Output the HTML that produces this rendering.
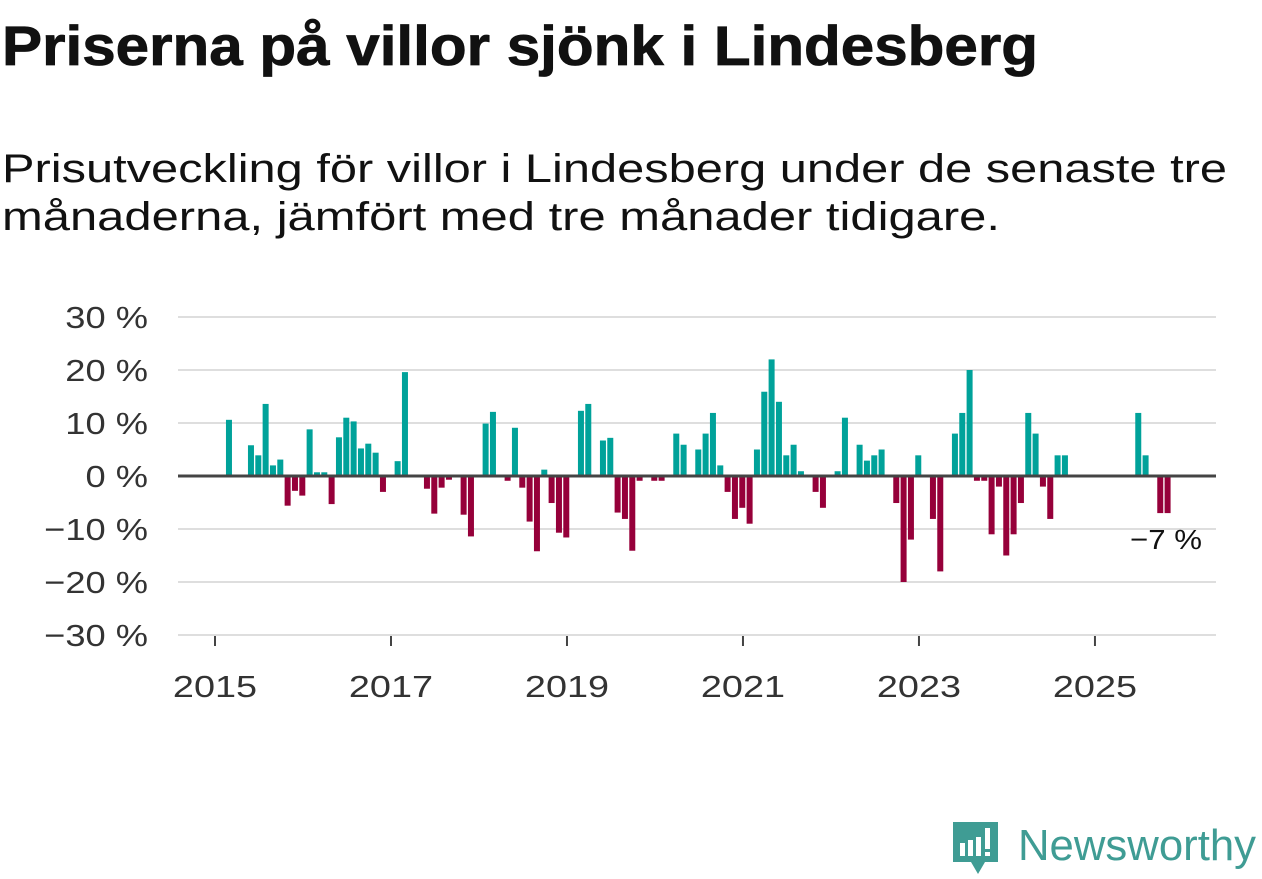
<!DOCTYPE html>
<html><head><meta charset="utf-8"><style>
html,body{margin:0;padding:0;background:#fff;}
svg{display:block;font-family:"Liberation Sans",sans-serif;}
</style></head><body>
<svg id="chart" width="1262" height="879" viewBox="0 0 1262 879">
<text x="2" y="65" font-size="56" font-weight="bold" fill="#111" stroke="#111" stroke-width="0.8" textLength="1036" lengthAdjust="spacingAndGlyphs">Priserna på villor sjönk i Lindesberg</text>
<text x="2" y="182" font-size="40" fill="#111" textLength="1225" lengthAdjust="spacingAndGlyphs">Prisutveckling för villor i Lindesberg under de senaste tre</text>
<text x="2" y="230" font-size="40" fill="#111" textLength="998" lengthAdjust="spacingAndGlyphs">månaderna, jämfört med tre månader tidigare.</text>
<g id="grid"></g><g id="bars"></g><g id="axes"></g>
<text x="1202" y="549" font-size="28" fill="#111" text-anchor="end" textLength="72" lengthAdjust="spacingAndGlyphs">−7 %</text>
<g>
<path d="M953 822 h45 v40 h-13 l-7 12 l-7 -12 h-18 z" fill="#3f9c94"/>
<rect x="960" y="843" width="5" height="13" fill="#fff"/>
<rect x="968" y="840" width="5" height="16" fill="#fff"/>
<rect x="976" y="837" width="5" height="19" fill="#fff"/>
<rect x="985" y="828" width="5" height="21" fill="#fff"/>
<rect x="985" y="852" width="5" height="4" fill="#fff"/>
<text x="1018" y="860" font-size="44" fill="#3f9c94" textLength="238" lengthAdjust="spacingAndGlyphs">Newsworthy</text>
</g>
</svg>
<script>
// month index since Jan 2015
const months=[2,5,6,7,8,9,10,11,12,13,14,15,16,17,18,19,20,21,22,23,25,26,29,30,31,32,34,35,37,38,40,41,42,43,44,45,46,47,48,50,51,53,54,55,56,57,58,60,61,63,64,66,67,68,69,70,71,72,73,74,75,76,77,78,79,80,82,83,85,86,88,89,90,91,93,94,95,96,98,99,101,102,103,104,105,106,107,108,109,110,111,112,113,114,115,116,126,127,129,130];
const values=[10.6,5.8,3.9,13.6,2,3.1,-5.6,-2.8,-3.7,8.8,0.7,0.7,-5.3,7.3,11,10.3,5.2,6.1,4.4,-3,2.8,19.6,-2.4,-7.1,-2.2,-0.7,-7.3,-11.4,9.9,12.1,-0.9,9.1,-2.2,-8.6,-14.2,1.2,-5.1,-10.7,-11.6,12.3,13.6,6.7,7.2,-6.9,-8.1,-14.1,-0.9,-0.9,-0.9,8,5.9,5,8,11.9,2,-3,-8.1,-6,-9,5,15.9,22,14,3.9,5.9,0.9,-3,-6,0.9,11,5.9,2.9,3.9,5,-5.1,-20,-12,3.9,-8.1,-18,8,11.9,20,-0.9,-0.9,-11,-2,-15,-11,-5.1,11.9,8,-2,-8.1,3.9,3.9,11.9,3.9,-7,-7];
const yTicks=[30,20,10,0,-10,-20,-30];
const yTickLabels=["30 %","20 %","10 %","0 %","−10 %","−20 %","−30 %"];
const xTicks=[2015,2017,2019,2021,2023,2025];
const NS="http://www.w3.org/2000/svg";
const y=v=>476-v*5.3;
const xm=m=>215+m*7.333;
const xy=yr=>xm((yr-2015)*12);
function mk(tag,attrs,parent,txt){const e=document.createElementNS(NS,tag);for(const k in attrs)e.setAttribute(k,attrs[k]);if(txt!==undefined)e.textContent=txt;document.getElementById(parent).appendChild(e);return e;}
function widen(el,f){const w=el.getComputedTextLength();el.setAttribute('textLength',w*f);el.setAttribute('lengthAdjust','spacingAndGlyphs');}
yTicks.forEach((t,i)=>{
 if(t!==0){const g=mk('line',{x1:178,x2:1216,y1:y(t),y2:y(t),stroke:'#dedede','stroke-width':2},'grid');
 
 }
 const l=mk('text',{x:148,y:y(t)+11,'font-size':31,fill:'#333','text-anchor':'end'},'axes',yTickLabels[i]);
 
 
 widen(l,1.17);
});
months.forEach((m,i)=>{
 const v=values[i];const top=v>=0?y(v):y(0);const h=Math.abs(y(v)-y(0));
 const b=mk('rect',{x:xm(m)-3.7,y:top,width:6,height:h,fill:v>=0?'#00a29a':'#96003a'},'bars');
 
 
});
const z=mk('line',{x1:178,x2:1216,y1:y(0),y2:y(0),stroke:'#444','stroke-width':3},'axes');


xTicks.forEach(t=>{
 const tk=mk('line',{x1:xy(t),x2:xy(t),y1:636,y2:646,stroke:'#444','stroke-width':2},'axes');
 
 
 const l=mk('text',{x:xy(t),y:697,'font-size':31,fill:'#333','text-anchor':'middle'},'axes',String(t));
 
 
 widen(l,1.22);
});
</script>
</body></html>
